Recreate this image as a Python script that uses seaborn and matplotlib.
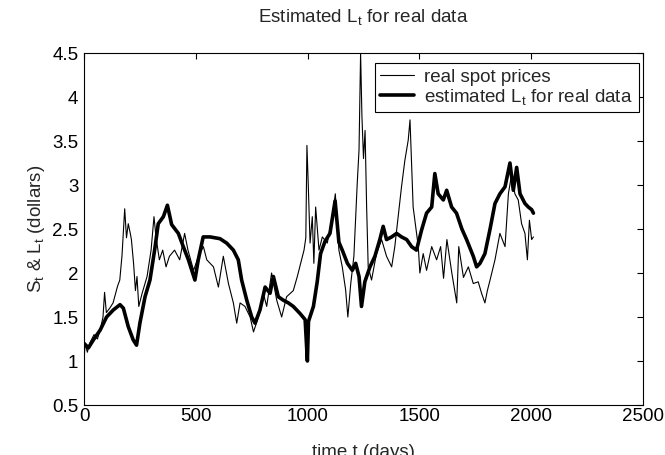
import matplotlib
matplotlib.use("Agg")
import matplotlib.pyplot as plt
from matplotlib.ticker import FuncFormatter
import seaborn as sns
import pandas as pd

# Real spot prices S_t (dollars) by trading day
spot_days = [0, 5, 15, 25, 45, 60, 72, 85, 92, 100, 115, 130, 150, 160, 170, 182,
             190, 198, 207, 212, 222, 230, 237, 245, 260, 282, 300, 313, 322, 337,
             352, 367, 382, 405, 428, 450, 465, 490, 512, 534, 549, 564, 579, 601,
             623, 646, 668, 683, 698, 720, 743, 758, 780, 802, 817, 839, 862, 884,
             906, 936, 954, 969, 984, 992, 997, 1003, 1011, 1021, 1028, 1036, 1051,
             1066, 1088, 1110, 1124, 1140, 1155, 1170, 1180, 1193, 1207, 1222, 1230,
             1237, 1243, 1250, 1257, 1264, 1271, 1286, 1308, 1331, 1353, 1376, 1390,
             1420, 1435, 1450, 1458, 1472, 1495, 1502, 1517, 1532, 1555, 1577, 1595,
             1608, 1623, 1645, 1667, 1676, 1697, 1719, 1741, 1763, 1778, 1793, 1804,
             1816, 1838, 1860, 1883, 1898, 1913, 1927, 1942, 1957, 1972, 1983, 1992,
             2002, 2010]
spot_prices = [1.0, 1.2, 1.1, 1.2, 1.3, 1.25, 1.35, 1.5, 1.78, 1.55, 1.6, 1.66, 1.85,
               1.92, 2.2, 2.73, 2.4, 2.56, 2.45, 2.38, 2.1, 1.8, 1.96, 1.62, 1.77, 1.96,
               2.26, 2.64, 2.41, 2.15, 2.26, 2.07, 2.19, 2.26, 2.15, 2.45, 2.26, 2.03,
               2.19, 2.3, 2.15, 2.11, 2.07, 1.84, 2.19, 1.88, 1.66, 1.43, 1.66, 1.62,
               1.5, 1.33, 1.5, 1.77, 1.62, 2.0, 1.69, 1.5, 1.73, 1.8, 1.96, 2.11, 2.26,
               2.4, 3.45, 3.0, 2.34, 2.64, 2.11, 2.75, 2.26, 2.41, 2.34, 2.64, 2.9, 2.26,
               2.07, 1.81, 1.5, 1.88, 2.19, 3.02, 3.4, 4.5, 3.78, 3.3, 3.62, 2.75, 2.07,
               1.92, 2.22, 2.38, 2.19, 2.07, 2.3, 2.98, 3.28, 3.51, 3.74, 2.75, 2.3, 2.0,
               2.22, 2.03, 2.3, 2.15, 2.3, 1.94, 2.38, 2.0, 1.66, 2.3, 1.95, 2.07, 1.88,
               1.9, 1.77, 1.66, 1.8, 1.92, 2.15, 2.45, 2.3, 2.9, 3.13, 2.9, 2.83, 2.56,
               2.45, 2.15, 2.6, 2.38, 2.41]

# Estimated long-term level L_t (dollars) by trading day
level_days = [0, 20, 42, 72, 101, 131, 161, 176, 198, 220, 235, 250, 273, 295, 317,
              332, 355, 373, 392, 422, 444, 467, 496, 511, 533, 564, 608, 638, 668,
              690, 705, 728, 750, 765, 787, 810, 832, 847, 869, 892, 914, 936, 966,
              989, 999, 1004, 1026, 1043, 1058, 1078, 1100, 1123, 1140, 1155, 1178,
              1200, 1215, 1230, 1241, 1256, 1279, 1301, 1323, 1338, 1353, 1376, 1398,
              1420, 1443, 1465, 1487, 1510, 1532, 1555, 1569, 1584, 1607, 1622, 1644,
              1666, 1690, 1711, 1741, 1756, 1771, 1793, 1816, 1838, 1860, 1883, 1905,
              1920, 1935, 1950, 1972, 1987, 2002, 2010]
level_values = [1.2, 1.15, 1.24, 1.35, 1.5, 1.58, 1.64, 1.6, 1.39, 1.24, 1.18, 1.43,
                1.73, 1.92, 2.28, 2.56, 2.64, 2.77, 2.55, 2.45, 2.3, 2.15, 1.92, 2.15,
                2.41, 2.41, 2.39, 2.34, 2.26, 2.15, 1.92, 1.69, 1.5, 1.43, 1.58, 1.84,
                1.77, 1.96, 1.73, 1.69, 1.66, 1.62, 1.54, 1.47, 1.0, 1.45, 1.62, 1.9,
                2.22, 2.36, 2.45, 2.82, 2.35, 2.26, 2.11, 2.03, 2.11, 1.96, 1.62, 1.9,
                2.07, 2.19, 2.38, 2.53, 2.38, 2.41, 2.45, 2.41, 2.38, 2.3, 2.26, 2.49,
                2.68, 2.75, 3.13, 2.9, 2.83, 2.94, 2.75, 2.68, 2.5, 2.38, 2.19, 2.07,
                2.11, 2.22, 2.5, 2.79, 2.9, 2.98, 3.25, 2.94, 3.2, 2.9, 2.79, 2.75, 2.72,
                2.68]

x_ticks = [0, 500, 1000, 1500, 2000, 2500]
y_ticks = [0.5, 1, 1.5, 2, 2.5, 3, 3.5, 4, 4.5]

sns.set_style("white")
plt.rcParams["font.family"] = ["Liberation Sans", "DejaVu Sans"]
plt.rcParams["mathtext.default"] = "regular"
plt.rcParams["font.size"] = 13.5

spot_df = pd.DataFrame({"day": spot_days, "price": spot_prices})
level_df = pd.DataFrame({"day": level_days, "price": level_values})

fig = plt.figure(figsize=(6.65, 4.55), dpi=100)
ax = fig.add_axes([84 / 665, 50 / 455, 559 / 665, 352 / 455])

sns.lineplot(data=spot_df, x="day", y="price", ax=ax, color="black",
             linewidth=0.8, label="real spot prices", sort=False)
sns.lineplot(data=level_df, x="day", y="price", ax=ax, color="black",
             linewidth=2.6, label="estimated L$_t$ for real data", sort=False)

ax.set_xlim(0, 2500)
ax.set_ylim(0.5, 4.5)
ax.set_xticks(x_ticks)
ax.set_yticks(y_ticks)
ax.yaxis.set_major_formatter(FuncFormatter(lambda v, _: f"{v:g}"))
ax.tick_params(direction="in", length=4, width=0.8, top=True, right=True,
               labelsize=13.5, colors="black")
ax.tick_params(axis="x", pad=2.5)
ax.tick_params(axis="y", pad=4)

for side in ["left", "right", "top", "bottom"]:
    ax.spines[side].set_visible(True)
    ax.spines[side].set_color("black")
    ax.spines[side].set_linewidth(0.8)

ax.set_title("Estimated L$_t$ for real data", fontsize=13.5, pad=22)
ax.set_xlabel("time t (days)", fontsize=13.5, labelpad=13)
ax.set_ylabel("S$_t$ & L$_t$ (dollars)", fontsize=13.5, labelpad=4)

leg = ax.legend(loc="upper right", bbox_to_anchor=(0.992, 0.972), frameon=True,
                fancybox=False, edgecolor="black", framealpha=1, fontsize=13.5,
                handlelength=1.8, handletextpad=0.55, labelspacing=0.05,
                borderpad=0.3, borderaxespad=0)
leg.get_frame().set_linewidth(0.8)

fig.savefig("out.png", dpi=100)
